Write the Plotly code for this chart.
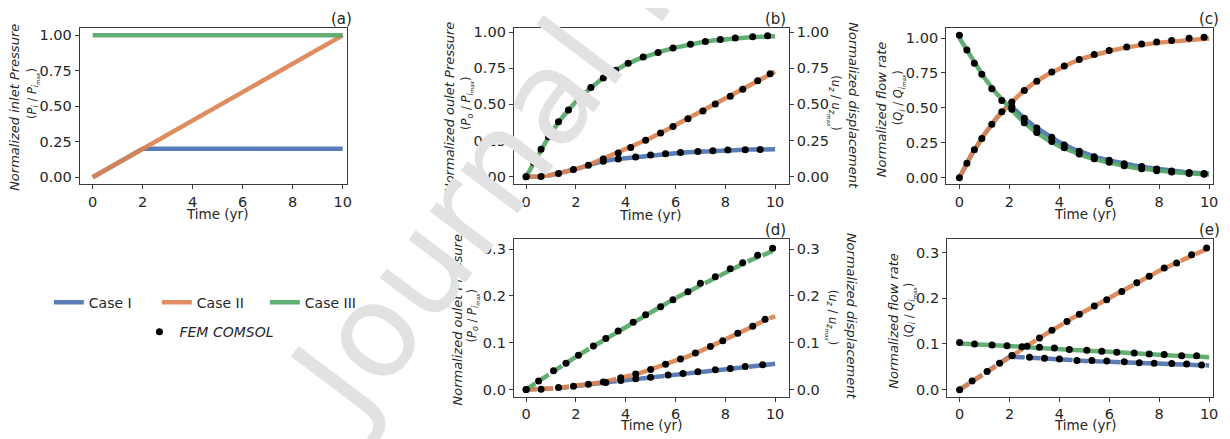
import plotly.graph_objects as go

# page body has an 8px margin, so the figure is a bit smaller than the window
OFF = 8
W, H = 1230 - OFF, 439 - OFF

# colours (seaborn "deep")
BLUE = '#4C72B0'
ORANGE = '#DD8452'
GREEN = '#55A868'
TXT = '#262626'
AX = '#3a3a3a'

# ---------------- data ----------------
# (a) inlet pressure
t_a = [0, 2, 10]
a_case1 = [0, 0.2, 0.2]
a_case2 = [0, 0.2, 1.0]
a_case3 = [1.0, 1.0, 1.0]

# common time grid for the analytical curves
t = [0, 0.5, 1, 1.5, 2, 2.5, 3, 3.5, 4, 4.5, 5, 5.5, 6, 6.5, 7, 7.5, 8, 8.5, 9, 9.5, 10]

# (b) outlet pressure / displacement
b_case1 = [0, 0.002, 0.012, 0.03, 0.053, 0.079, 0.105, 0.119, 0.129, 0.139, 0.148, 0.156,
           0.163, 0.17, 0.175, 0.179, 0.183, 0.186, 0.188, 0.189, 0.19]
b_case2 = [0, 0.002, 0.012, 0.03, 0.053, 0.08, 0.117, 0.15, 0.186, 0.227, 0.268, 0.311,
           0.357, 0.4, 0.446, 0.493, 0.539, 0.586, 0.634, 0.682, 0.726]
b_case3 = [0, 0.16, 0.305, 0.42, 0.52, 0.6, 0.67, 0.727, 0.775, 0.813, 0.844, 0.87,
           0.892, 0.912, 0.928, 0.941, 0.951, 0.958, 0.964, 0.968, 0.97]
fem_b_t1 = [3.1, 3.7, 4.4, 5.0, 5.6, 6.2, 6.9, 7.5, 8.1, 8.8, 9.4]
fem_b_case1 = [0.107, 0.123, 0.136, 0.15, 0.159, 0.168, 0.175, 0.18, 0.184, 0.186, 0.189]
fem_b_t2 = [0, 0.6, 1.3, 1.9, 2.5, 3.1, 3.7, 4.2, 4.8, 5.4, 5.9, 6.5, 7.1, 7.6, 8.2, 8.7, 9.3, 9.8]
fem_b_case2 = [0, 0.002, 0.023, 0.05, 0.08, 0.123, 0.164, 0.202, 0.252, 0.302, 0.348, 0.4,
               0.455, 0.502, 0.557, 0.605, 0.664, 0.711]
fem_b_t3 = [0, 0.3, 0.6, 0.9, 1.3, 1.7, 2.1, 2.6, 3.1, 3.6, 4.1, 4.7, 5.3, 5.9, 6.6, 7.2, 7.8, 8.4, 9.1, 9.7]
fem_b_case3 = [0, 0.098, 0.19, 0.277, 0.38, 0.461, 0.536, 0.616, 0.682, 0.736, 0.784, 0.827,
               0.859, 0.889, 0.916, 0.934, 0.948, 0.959, 0.968, 0.975]

# (c) flow rate
c_case1 = [0, 0.17, 0.31, 0.43, 0.525, 0.44, 0.368, 0.31, 0.255, 0.21, 0.176, 0.146,
           0.123, 0.103, 0.087, 0.073, 0.06, 0.049, 0.041, 0.034, 0.028]
c_case2 = [0, 0.17, 0.31, 0.43, 0.525, 0.61, 0.68, 0.735, 0.78, 0.823, 0.857, 0.884,
           0.907, 0.926, 0.943, 0.956, 0.967, 0.976, 0.984, 0.99, 0.997]
c_case3 = [1.0, 0.85, 0.715, 0.6, 0.505, 0.41, 0.335, 0.275, 0.225, 0.187, 0.155, 0.128,
           0.106, 0.088, 0.072, 0.059, 0.049, 0.04, 0.033, 0.027, 0.023]
fem_c_t1 = [2.1, 2.6, 3.1, 3.7, 4.2, 4.8, 5.4, 6.0, 6.6, 7.3, 7.9, 8.5, 9.2, 9.8]
fem_c_case1 = [0.51, 0.425, 0.355, 0.29, 0.235, 0.19, 0.15, 0.125, 0.1, 0.08, 0.062, 0.048, 0.038, 0.03]
fem_c_t2 = [0, 0.3, 0.6, 0.9, 1.3, 1.7, 2.1, 2.6, 3.1, 3.7, 4.2, 4.8, 5.4, 6.0, 6.7, 7.3, 7.9, 8.5, 9.2, 9.8]
fem_c_case2 = [0, 0.104, 0.2, 0.28, 0.382, 0.472, 0.542, 0.625, 0.691, 0.757, 0.8, 0.847,
               0.882, 0.91, 0.936, 0.958, 0.972, 0.983, 0.998, 1.006]
fem_c_t3 = [0, 0.3, 0.6, 0.9, 1.3, 1.7, 2.1, 2.6, 3.1, 3.7, 4.2, 4.8, 5.4, 6.0, 6.6, 7.3, 7.9, 8.5, 9.2, 9.8]
fem_c_case3 = [1.02, 0.915, 0.82, 0.74, 0.637, 0.552, 0.49, 0.394, 0.323, 0.26, 0.215, 0.17,
               0.135, 0.11, 0.085, 0.065, 0.05, 0.04, 0.03, 0.025]

# (d) outlet pressure / displacement (second scenario)
d_case1 = [0, 0.0005, 0.002, 0.004, 0.008, 0.011, 0.014, 0.017, 0.02, 0.023, 0.026, 0.029,
           0.032, 0.035, 0.038, 0.041, 0.044, 0.047, 0.049, 0.052, 0.055]
d_case2 = [0, 0.0005, 0.002, 0.005, 0.008, 0.011, 0.015, 0.021, 0.027, 0.034, 0.043, 0.052,
           0.061, 0.071, 0.082, 0.094, 0.106, 0.119, 0.132, 0.146, 0.157]
d_case3 = [0, 0.018, 0.036, 0.053, 0.07, 0.086, 0.102, 0.118, 0.134, 0.15, 0.165, 0.18,
           0.195, 0.209, 0.223, 0.237, 0.25, 0.263, 0.276, 0.288, 0.298]
fem_d_t1 = [3.2, 3.8, 4.4, 5.0, 5.7, 6.3, 6.9, 7.6, 8.2, 8.8, 9.5]
fem_d_case1 = [0.015, 0.019, 0.023, 0.026, 0.031, 0.034, 0.038, 0.042, 0.045, 0.049, 0.053]
fem_d_t2 = [0, 0.6, 1.3, 1.9, 2.5, 3.1, 3.8, 4.4, 5.0, 5.6, 6.2, 6.8, 7.4, 7.9, 8.5, 9.1, 9.6]
fem_d_case2 = [0, 0.0007, 0.004, 0.007, 0.011, 0.016, 0.025, 0.033, 0.043, 0.054, 0.065, 0.078,
               0.092, 0.104, 0.12, 0.135, 0.15]
fem_d_t3 = [0, 0.5, 1.1, 1.6, 2.1, 2.7, 3.2, 3.7, 4.3, 4.8, 5.4, 5.9, 6.5, 7.0, 7.6, 8.2, 8.7, 9.3, 9.9]
fem_d_case3 = [0, 0.018, 0.04, 0.056, 0.073, 0.093, 0.109, 0.125, 0.144, 0.16, 0.177, 0.192,
               0.209, 0.227, 0.241, 0.258, 0.271, 0.287, 0.302]

# (e) flow rate (second scenario)
e_case1 = [0, 0.018, 0.036, 0.054, 0.072, 0.071, 0.07, 0.068, 0.066, 0.065, 0.063, 0.062,
           0.061, 0.06, 0.059, 0.058, 0.057, 0.056, 0.055, 0.054, 0.053]
e_case2 = [0, 0.018, 0.036, 0.054, 0.072, 0.089, 0.106, 0.123, 0.14, 0.156, 0.171, 0.186,
           0.201, 0.216, 0.231, 0.246, 0.26, 0.273, 0.286, 0.298, 0.31]
e_case3 = [0.101, 0.1, 0.098, 0.097, 0.095, 0.094, 0.092, 0.09, 0.089, 0.087, 0.086, 0.084,
           0.083, 0.081, 0.08, 0.078, 0.077, 0.075, 0.074, 0.072, 0.071]
fem_e_t1 = [2.1, 2.8, 3.4, 4.0, 4.7, 5.3, 5.9, 6.6, 7.2, 7.8, 8.5, 9.1, 9.7]
fem_e_case1 = [0.074, 0.071, 0.069, 0.067, 0.064, 0.064, 0.063, 0.061, 0.059, 0.058, 0.057, 0.056, 0.054]
fem_e_t2 = [0, 0.5, 1.1, 1.6, 2.1, 2.7, 3.2, 3.7, 4.3, 4.8, 5.4, 5.9, 6.5, 7.1, 7.6, 8.2, 8.7, 9.3, 9.9]
fem_e_case2 = [0, 0.019, 0.04, 0.058, 0.075, 0.095, 0.113, 0.13, 0.149, 0.165, 0.183, 0.197,
               0.215, 0.234, 0.248, 0.266, 0.277, 0.295, 0.31]
fem_e_t3 = [0, 0.6, 1.3, 1.9, 2.5, 3.2, 3.8, 4.4, 5.1, 5.7, 6.3, 7.0, 7.6, 8.2, 8.9, 9.5]
fem_e_case3 = [0.103, 0.1, 0.098, 0.096, 0.094, 0.093, 0.091, 0.088, 0.086, 0.084, 0.082, 0.08,
               0.078, 0.077, 0.074, 0.074]

case_names = ['Case I', 'Case II', 'Case III']
case_colors = [BLUE, ORANGE, GREEN]


def px(v):
    # window pixel -> paper fraction
    return (v - OFF) / W


def py(v):
    return 1 - (v - OFF) / H


fig = go.Figure()


def add_lines(xa, ya, xs, ys_list, dashes, legend=False):
    for i, ys in enumerate(ys_list):
        fig.add_trace(go.Scatter(
            x=xs, y=ys, mode='lines', name=case_names[i],
            line=dict(color=case_colors[i], width=4.5, dash=dashes[i]),
            opacity=0.92, xaxis=xa, yaxis=ya,
            showlegend=legend, legendgroup=case_names[i], hoverinfo='skip'))


def add_fem(xa, ya, pairs, legend=False):
    for j, (xs, ys) in enumerate(pairs):
        fig.add_trace(go.Scatter(
            x=xs, y=ys, mode='markers', name='<i>FEM COMSOL</i>',
            marker=dict(color='black', size=7),
            xaxis=xa, yaxis=ya, legend='legend2',
            showlegend=legend and j == 0, legendgroup='fem', hoverinfo='skip'))


DASH = '11px,5px'
add_lines('x', 'y', t_a, [a_case1, a_case2, a_case3], ['solid'] * 3, legend=True)
add_lines('x2', 'y2', t, [b_case1, b_case2, b_case3], ['solid'] * 3)
add_fem('x2', 'y6', [(fem_b_t1, fem_b_case1), (fem_b_t2, fem_b_case2), (fem_b_t3, fem_b_case3)], legend=True)
add_lines('x3', 'y3', t, [c_case1, c_case2, c_case3], ['solid'] * 3)
add_fem('x3', 'y3', [(fem_c_t1, fem_c_case1), (fem_c_t2, fem_c_case2), (fem_c_t3, fem_c_case3)])
add_lines('x4', 'y4', t, [d_case1, d_case2, d_case3], [DASH] * 3)
add_fem('x4', 'y7', [(fem_d_t1, fem_d_case1), (fem_d_t2, fem_d_case2), (fem_d_t3, fem_d_case3)])
add_lines('x5', 'y5', t, [e_case1, e_case2, e_case3], [DASH, DASH, 'solid'])
add_fem('x5', 'y5', [(fem_e_t1, fem_e_case1), (fem_e_t2, fem_e_case2), (fem_e_t3, fem_e_case3)])

FONT = 'DejaVu Sans'
axis_common = dict(showgrid=False, zeroline=False, showline=True, linecolor=AX, linewidth=1.2,
                   mirror=True, ticks='outside', ticklen=4, tickwidth=1.2, tickcolor=AX,
                   tickfont=dict(family=FONT, size=14.5, color=TXT))

top = [py(182.3), py(24)]
bot = [py(397.5), py(238)]
xt = dict(tickvals=[0, 2, 4, 6, 8, 10])
y1 = dict(dtick=0.25, tick0=0, tickformat='.2f')
y2 = dict(dtick=0.1, tick0=0, tickformat='.1f')

fig.update_layout(
    xaxis=dict(axis_common, **xt, domain=[px(80), px(348.3)], range=[-0.52, 10.17], anchor='y'),
    yaxis=dict(axis_common, **y1, domain=top, range=[-0.05, 1.053], anchor='x'),
    xaxis2=dict(axis_common, **xt, domain=[px(516), px(792)], range=[-0.49, 10.55], anchor='y2'),
    yaxis2=dict(axis_common, **y1, domain=top, range=[-0.052, 1.029], anchor='x2'),
    xaxis3=dict(axis_common, **xt, domain=[px(950), px(1218.3)], range=[-0.53, 10.17], anchor='y3'),
    yaxis3=dict(axis_common, **y1, domain=top, range=[-0.047, 1.073], anchor='x3'),
    xaxis4=dict(axis_common, **xt, domain=[px(516), px(792)], range=[-0.49, 10.55], anchor='y4'),
    yaxis4=dict(axis_common, **y2, domain=bot, range=[-0.016, 0.321], anchor='x4'),
    xaxis5=dict(axis_common, **xt, domain=[px(951), px(1218.3)], range=[-0.5, 10.17], anchor='y5'),
    yaxis5=dict(axis_common, **y2, domain=bot, range=[-0.016, 0.329], anchor='x5'),
    yaxis6=dict(axis_common, **y1, showline=False, mirror=False, side='right',
                overlaying='y2', anchor='x2', range=[-0.052, 1.029]),
    yaxis7=dict(axis_common, **y2, showline=False, mirror=False, side='right',
                overlaying='y4', anchor='x4', range=[-0.016, 0.321]),
)

ann = []


def label(text, x, y, size=13, angle=0, xanchor='center', yanchor='middle', color=TXT):
    ann.append(dict(text=text, x=px(x), y=py(y), xref='paper', yref='paper', showarrow=False,
                    textangle=angle, xanchor=xanchor, yanchor=yanchor,
                    font=dict(family=FONT, size=size, color=color)))


# panel letters
for txt, x, y in [('(a)', 355, 15), ('(b)', 791, 15), ('(c)', 1226, 15),
                  ('(d)', 791, 229), ('(e)', 1227, 229)]:
    label(txt, x, y, size=15, xanchor='right')

# x titles
for x, y in [(218, 212), (653, 213), (1089, 212), (654, 426), (1089, 426)]:
    label('Time (yr)', x, y, size=13.5)

# y titles
T1 = 13
SUB = 11.5
p_max = "<i>P<sub>i<sub>max</sub></sub></i>"
label('<i>Normalized inlet Pressure</i>', 15, 104, size=T1, angle=-90)
label("(<i>P<sub>i</sub></i> / " + p_max + ")", 33, 90, size=SUB, angle=-90)

label('<i>Normalized oulet Pressure</i>', 452, 105, size=T1, angle=-90)
label("(<i>P<sub>o</sub></i> / " + p_max + ")", 469, 100, size=SUB, angle=-90)
label('<i>Normalized displacement</i>', 857, 103, size=T1, angle=90)
label("(<i>u<sub>z</sub></i> / <i>u<sub>z<sub>max</sub></sub></i>)", 838, 100, size=SUB, angle=90)

label('<i>Normalized flow rate</i>', 885, 106, size=T1, angle=-90)
label("(<i>Q<sub>i</sub></i> / <i>Q<sub>i<sub>max</sub></sub></i>)", 903, 95, size=SUB, angle=-90)

label('<i>Normalized oulet Pressure</i>', 459, 320, size=T1, angle=-90)
label("(<i>P<sub>o</sub></i> / " + p_max + ")", 475, 315, size=SUB, angle=-90)
label('<i>Normalized displacement</i>', 855, 316, size=T1, angle=90)
label("(<i>u<sub>z</sub></i> / <i>u<sub>z<sub>max</sub></sub></i>)", 835, 317, size=SUB, angle=90)

label('<i>Normalized flow rate</i>', 897, 320, size=T1, angle=-90)
label("(<i>Q<sub>i</sub></i> / <i>Q<sub>i<sub>max</sub></sub></i>)", 914, 310, size=SUB, angle=-90)

# watermark
label('Journal Pre-proof', 650, -39, size=130, angle=-53, color='#e2e2e2')

fig.update_layout(
    annotations=ann,
    width=W, height=H,
    margin=dict(l=0, r=0, t=0, b=0),
    paper_bgcolor='white', plot_bgcolor='white',
    font=dict(family=FONT, color=TXT),
    legend=dict(orientation='h', x=px(49), y=py(302), xanchor='left', yanchor='middle',
                font=dict(family=FONT, size=14, color=TXT), bgcolor='rgba(0,0,0,0)',
                entrywidth=63, traceorder='normal'),
    legend2=dict(orientation='h', x=px(140), y=py(332), xanchor='left', yanchor='middle',
                 font=dict(family=FONT, size=14, color=TXT), bgcolor='rgba(0,0,0,0)'),
)

fig.write_html("out.html")
